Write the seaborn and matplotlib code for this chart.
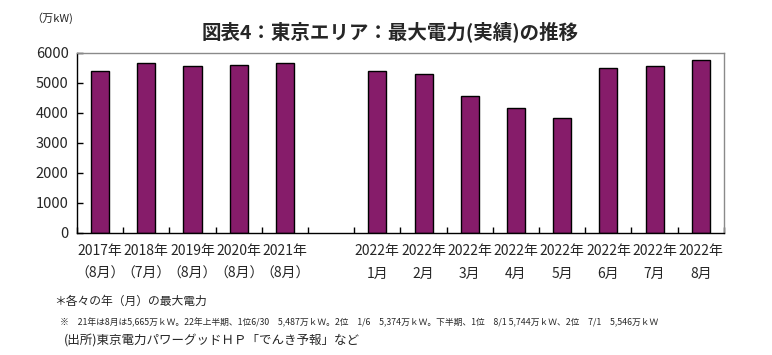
import numpy as np
import pandas as pd
import seaborn as sns
import matplotlib.pyplot as plt
from matplotlib.ticker import FixedLocator

# --- data (万kW) ---
labels = ["2017年\n（8月）", "2018年\n（7月）", "2019年\n（8月）", "2020年\n（8月）", "2021年\n（8月）",
          " ",
          "2022年\n1月", "2022年\n2月", "2022年\n3月", "2022年\n4月",
          "2022年\n5月", "2022年\n6月", "2022年\n7月", "2022年\n8月"]
values = [5400, 5650, 5550, 5600, 5665,
          np.nan,
          5374, 5290, 4560, 4150, 3820, 5487, 5546, 5744]
y_ticks = [0, 1000, 2000, 3000, 4000, 5000, 6000]

title = "図表4：東京エリア：最大電力(実績)の推移"
unit = "（万kW)"
note1 = "＊各々の年（月）の最大電力"
note2 = ("※　21年は8月は5,665万ｋＷ。22年上半期、1位6/30　5,487万ｋＷ。2位　1/6　5,374万ｋＷ。"
         "下半期、1位　8/1 5,744万ｋＷ、2位　7/1　5,546万ｋＷ")
source = "(出所)東京電力パワーグッドＨＰ「でんき予報」など"

sns.set_theme(style="white")
plt.rcParams['font.family'] = ['Noto Sans CJK JP', 'DejaVu Sans']

df = pd.DataFrame({'label': labels, 'value': values})

fig = plt.figure(figsize=(7.72, 3.55), dpi=100)
ax = fig.add_axes([0.0997, 0.3437, 0.838, 0.5083])

sns.barplot(data=df, x='label', y='value', order=labels, color='#861C6A',
            saturation=1, width=0.39, edgecolor='black', linewidth=1.0, ax=ax)

ax.set_xlim(-0.5, len(labels) - 0.5)
ax.set_ylim(0, 6000)
ax.set_yticks(y_ticks)
ax.set_yticklabels([str(t) for t in y_ticks], fontsize=10.5)
ax.set_xlabel("")
ax.set_ylabel("")

# category labels (no marks), boundary ticks as minor ticks pointing inward
ax.set_xticks(range(len(labels)))
ax.set_xticklabels(labels, fontsize=10, linespacing=1.8)
ax.tick_params(axis='x', which='major', length=0, pad=8)
ax.xaxis.set_minor_locator(FixedLocator(np.arange(-0.5, len(labels), 1.0)))
ax.tick_params(axis='x', which='minor', direction='in', length=4, width=1, color='black', bottom=True)
ax.tick_params(axis='y', direction='in', length=4, width=1, color='black', left=True, pad=6)

for side in ['left', 'bottom']:
    ax.spines[side].set_color('black')
    ax.spines[side].set_linewidth(1.0)
for side in ['top', 'right']:
    ax.spines[side].set_color('#8a8a8a')
    ax.spines[side].set_linewidth(1.0)

fig.text(0.505, 0.912, title, ha='center', va='center', fontsize=14, fontweight='bold')
fig.text(0.040, 0.950, unit, ha='left', va='center', fontsize=8)
fig.text(0.070, 0.152, note1, ha='left', va='center', fontsize=8.5)
fig.text(0.078, 0.092, note2, ha='left', va='center', fontsize=6.3)
fig.text(0.083, 0.040, source, ha='left', va='center', fontsize=9)

plt.savefig("out.png", dpi=100)
